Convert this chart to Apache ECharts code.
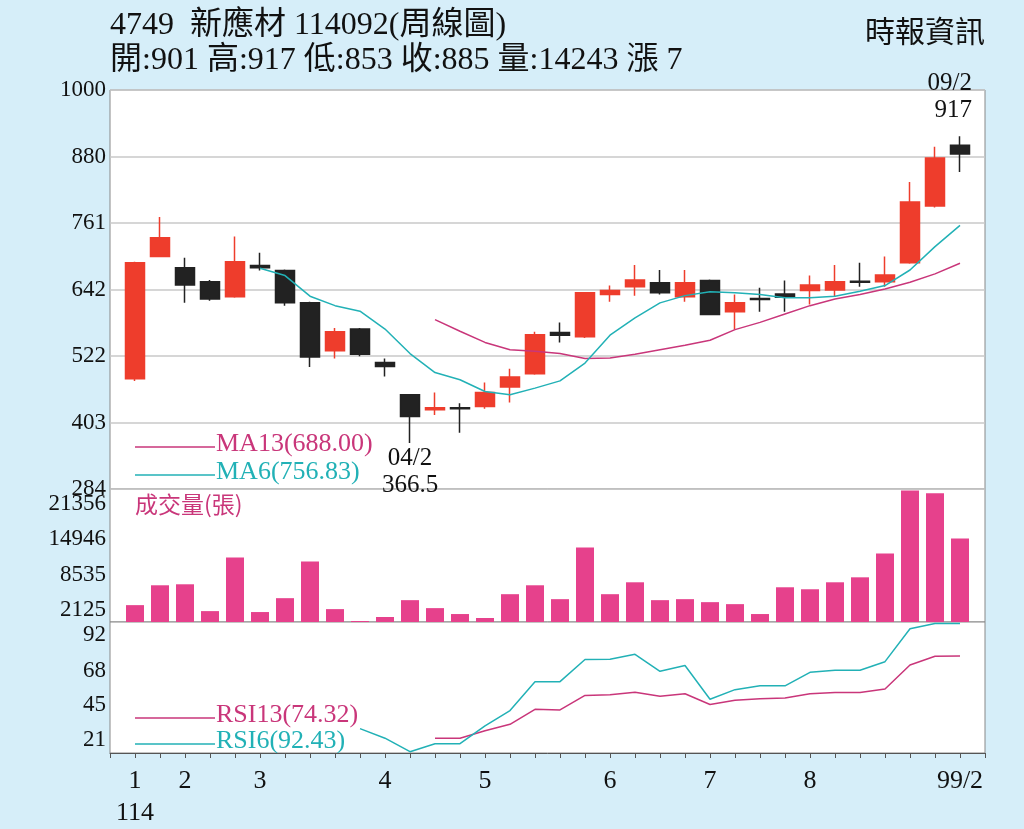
<!DOCTYPE html>
<html>
<head>
<meta charset="UTF-8">
<script src="https://cdn.jsdelivr.net/npm/echarts@6/dist/echarts.min.js"></script>
<title>4749 新應材 周線圖</title>
<style>
  html, body { margin: 0; padding: 0; background: #d6eef9; }
  #box { width: 1024px; height: 829px; }
</style>
</head>
<body>
<div id="box"></div>
<script>
// 週次 1..34，每根 K 棒 [開, 收, 低, 高]
var weeks = [1,2,3,4,5,6,7,8,9,10,11,12,13,14,15,16,17,18,19,20,21,22,23,24,25,26,27,28,29,30,31,32,33,34];
var ohlc = [
  [482,690,478,692],[701,735,700,772],[681,650,618,699],[656,625,622,659],[629,692,627,737],
  [685,681,676,708],[676,618,613,678],[618,521,503,620],[532,566,518,573],[571,526,522,573],
  [511,504,486,518],[453,414,366.5,453],[426,430,417,457],[430,428,385,438],[432,457,428,475],
  [467,485,439,500],[491,561,489,566],[565,560,547,583],[557,636,555,637],[633,640,620,649],
  [647,659,631,686],[654,636,633,677],[629,654,620,677],[658,597,597,660],[602,618,570,633],
  [626,624,602,645],[634,628,602,658],[640,650,615,667],[641,656,629,686],[657,655,647,690],
  [656,668,647,701],[690,799,688,835],[792,878,789,898],[901,885,853,917]
];
var ma6 = [null,null,null,null,null,680,667,630,613,603,571,527,493,480,459,453,465,478,510,560,
  591,618,631,638,636,633,627,627,630,639,649,677,719,757];
var ma13 = [null,null,null,null,null,null,null,null,null,null,null,null,588,567,547,534,531,527,518,519,
  526,534,542,551,570,583,598,613,625,633,643,655,670,689];
var volume = [3050,6640,6820,1970,11670,1800,4310,10950,2330,180,900,3950,2510,1440,720,5030,6640,4130,13460,5030,
  7180,3950,4130,3590,3230,1440,6280,5920,7180,8080,12390,23800,23300,15080];
var rsi6 = [null,null,null,null,null,null,null,null,null,29.0,22.5,13.4,18.8,18.8,30.8,41.2,60.7,60.7,75.7,75.9,
  79.2,67.7,71.6,48.8,55.3,57.9,57.9,67.0,68.4,68.4,74.2,96.4,100,100];
var rsi13 = [null,null,null,null,null,null,null,null,null,null,null,null,22.5,22.5,27.5,31.9,42.0,41.6,51.4,51.8,
  53.6,50.8,52.5,45.3,48.1,49.2,49.6,52.5,53.4,53.4,55.7,72.0,77.9,78.1];
var priceTicks = [284, 403, 522, 642, 761, 880, 1000];
var volTicks = [2125, 8535, 14946, 21356];
var rsiTicks = [21, 45, 68, 92];
var monthPos = [1, 3, 6, 11, 15, 20, 24, 28, 34];
var monthLabels = ['1\n114', '2', '3', '4', '5', '6', '7', '8', '99/2'];

var RED = '#ee3d2c', BLACK = '#222222', PINK = '#e6418c', MAG = '#c9367a', TEAL = '#22b1b6';
var FONT = 'Liberation Serif';

function pair(arr) { return weeks.map(function (w, i) { return [w, arr[i]]; }); }

var chart = echarts.init(document.getElementById('box'));

var xBase = { type: 'value', min: 0, max: 35, interval: 1, axisLabel: { show: false }, axisTick: { show: false },
  splitLine: { show: false }, axisLine: { show: false } };
var labelStyle = { color: '#111', fontFamily: FONT, fontSize: 23 };

var option = {
  backgroundColor: '#d6eef9',
  animation: false,
  grid: [
    { left: 110, right: 39, top: 90, height: 399, backgroundColor: '#fff', show: true, borderColor: '#888', borderWidth: 1 },
    { left: 110, right: 39, top: 489, height: 133, backgroundColor: '#fff', show: true, borderColor: '#888', borderWidth: 1 },
    { left: 110, right: 39, top: 622, height: 135, backgroundColor: '#fff', show: true, borderColor: '#888', borderWidth: 1 }
  ],
  xAxis: [
    Object.assign({ gridIndex: 0 }, xBase),
    Object.assign({ gridIndex: 1 }, xBase),
    { gridIndex: 2, type: 'value', min: 0, max: 35, interval: 1, splitLine: { show: false },
      axisLine: { show: true, lineStyle: { color: '#555' } },
      axisTick: { show: true, length: 5, lineStyle: { color: '#555' } },
      axisLabel: { customValues: monthPos, margin: 12, lineHeight: 32, color: '#111', fontFamily: FONT, fontSize: 26,
        formatter: function (v) { var k = monthPos.indexOf(v); return k < 0 ? '' : monthLabels[k]; } } }
  ],
  yAxis: [
    { gridIndex: 0, type: 'value', min: 284, max: 1000, interval: (1000 - 284) / 6,
      axisLine: { show: false }, axisTick: { show: false },
      splitLine: { lineStyle: { color: '#c8c8c8', width: 1.5 } },
      axisLabel: Object.assign({ margin: 4, formatter: function (v) {
        var best = priceTicks[0];
        priceTicks.forEach(function (t) { if (Math.abs(t - v) < Math.abs(best - v)) best = t; });
        return String(best); } }, labelStyle) },
    { gridIndex: 1, type: 'value', min: 0, max: 24050, splitLine: { show: false }, axisLine: { show: false },
      axisTick: { show: false },
      axisLabel: Object.assign({ margin: 4, customValues: volTicks, formatter: function (v) { return String(v); } }, labelStyle) },
    { gridIndex: 2, type: 'value', min: 12.5, max: 101, splitLine: { show: false }, axisLine: { show: false },
      axisTick: { show: false },
      axisLabel: Object.assign({ margin: 4, customValues: rsiTicks, formatter: function (v) { return String(v); } }, labelStyle) }
  ],
  series: [
    { type: 'candlestick', xAxisIndex: 0, yAxisIndex: 0, barWidth: 19,
      data: weeks.map(function (w, i) { return [w].concat(ohlc[i]); }),
      encode: { x: 0, y: [1, 2, 3, 4] },
      itemStyle: { color: RED, color0: BLACK, borderColor: RED, borderColor0: BLACK, borderWidth: 1.5 },
      markPoint: { symbol: 'circle', symbolSize: 0, data: [
        { coord: [34, 917], value: '09/2\n917', label: { show: true, position: 'top', distance: 12, lineHeight: 27,
          color: '#111', fontFamily: FONT, fontSize: 25, formatter: '09/2\n917', align: 'right', offset: [12, 0] } },
        { coord: [12, 366.5], value: '04/2\n366.5', label: { show: true, position: 'bottom', distance: 2, lineHeight: 27,
          color: '#111', fontFamily: FONT, fontSize: 25, formatter: '04/2\n366.5' } }
      ] } },
    { type: 'line', xAxisIndex: 0, yAxisIndex: 0, data: pair(ma13), showSymbol: false,
      lineStyle: { color: MAG, width: 1.5 } },
    { type: 'line', xAxisIndex: 0, yAxisIndex: 0, data: pair(ma6), showSymbol: false,
      lineStyle: { color: TEAL, width: 1.5 } },
    { type: 'bar', xAxisIndex: 1, yAxisIndex: 1, data: pair(volume), barWidth: 18,
      itemStyle: { color: PINK } },
    { type: 'line', xAxisIndex: 2, yAxisIndex: 2, data: pair(rsi13), showSymbol: false,
      lineStyle: { color: MAG, width: 1.5 } },
    { type: 'line', xAxisIndex: 2, yAxisIndex: 2, data: pair(rsi6), showSymbol: false,
      lineStyle: { color: TEAL, width: 1.5 } }
  ],
  graphic: [
    { type: 'text', left: 110, top: 10, style: { text: '4749  新應材 114092(周線圖)', fill: '#111',
      font: '32px "Liberation Serif", "Noto Sans CJK TC"' } },
    { type: 'text', left: 110, top: 45, style: { text: '開:901 高:917 低:853 收:885 量:14243 漲 7', fill: '#111',
      font: '32px "Liberation Serif", "Noto Sans CJK TC"' } },
    { type: 'text', right: 39, top: 16, style: { text: '時報資訊', fill: '#111',
      font: '30px "Noto Sans CJK TC"' } },
    { type: 'line', shape: { x1: 135, y1: 447, x2: 215, y2: 447 }, style: { stroke: MAG, lineWidth: 1.5 } },
    { type: 'text', left: 216, top: 431, style: { text: 'MA13(688.00)', fill: MAG, font: '26px "Liberation Serif"' } },
    { type: 'line', shape: { x1: 135, y1: 475, x2: 215, y2: 475 }, style: { stroke: TEAL, lineWidth: 1.5 } },
    { type: 'text', left: 216, top: 459, style: { text: 'MA6(756.83)', fill: TEAL, font: '26px "Liberation Serif"' } },
    { type: 'text', left: 135, top: 493, style: { text: '成交量(張)', fill: MAG, font: '23px "Noto Sans CJK TC"' } },
    { type: 'line', shape: { x1: 135, y1: 718, x2: 215, y2: 718 }, style: { stroke: MAG, lineWidth: 1.5 } },
    { type: 'text', left: 216, top: 702, style: { text: 'RSI13(74.32)', fill: MAG, font: '26px "Liberation Serif"' } },
    { type: 'line', shape: { x1: 135, y1: 744, x2: 215, y2: 744 }, style: { stroke: TEAL, lineWidth: 1.5 } },
    { type: 'text', left: 216, top: 728, style: { text: 'RSI6(92.43)', fill: TEAL, font: '26px "Liberation Serif"' } }
  ]
};

chart.setOption(option);
</script>
</body>
</html>
